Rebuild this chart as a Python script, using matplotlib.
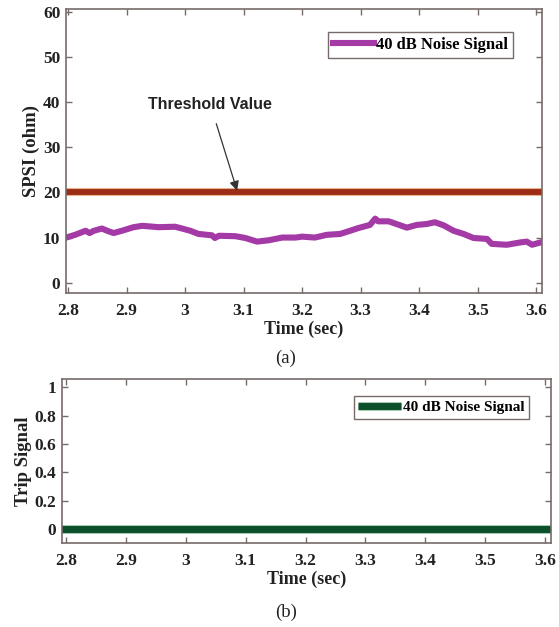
import matplotlib
matplotlib.use("Agg")
import matplotlib.pyplot as plt
import matplotlib.patheffects as pe

# ---- data ----
time_a = [2.797, 2.812, 2.830, 2.837, 2.844, 2.858, 2.867, 2.878, 2.892, 2.912,
          2.927, 2.955, 2.983, 2.995, 3.009, 3.023, 3.046, 3.051, 3.058, 3.086,
          3.103, 3.123, 3.143, 3.166, 3.189, 3.200, 3.222, 3.242, 3.265, 3.282,
          3.296, 3.316, 3.325, 3.330, 3.348, 3.368, 3.379, 3.396, 3.413, 3.427,
          3.442, 3.459, 3.476, 3.493, 3.516, 3.524, 3.550, 3.572, 3.584, 3.593,
          3.607]
spsi_40db = [10.0, 10.6, 11.5, 11.0, 11.5, 12.0, 11.5, 11.0, 11.5, 12.3,
             12.6, 12.3, 12.4, 12.0, 11.5, 10.8, 10.5, 9.9, 10.4, 10.3,
             9.9, 9.1, 9.4, 10.0, 10.0, 10.2, 10.0, 10.6, 10.8, 11.5,
             12.1, 12.8, 14.2, 13.6, 13.6, 12.7, 12.2, 12.8, 13.0, 13.4,
             12.7, 11.5, 10.8, 9.9, 9.7, 8.6, 8.4, 8.9, 9.1, 8.4,
             8.9]
threshold_time = [2.79, 3.62]
threshold_value = [20, 20]
trip_time = [2.79, 3.62]
trip_signal = [0, 0]

xticks = [2.8, 2.9, 3.0, 3.1, 3.2, 3.3, 3.4, 3.5, 3.6]
xticklabels = ["2.8", "2.9", "3", "3.1", "3.2", "3.3", "3.4", "3.5", "3.6"]
yticks_a = [0, 10, 20, 30, 40, 50, 60]
yticks_b = [0, 0.2, 0.4, 0.6, 0.8, 1]
yticklabels_b = ["0", "0.2", "0.4", "0.6", "0.8", "1"]
legend_label = "40 dB Noise Signal"

SERIF = "Liberation Serif"
FRAME = "#766b69"

fig = plt.figure(figsize=(5.59, 6.27), dpi=100)
W, H = 559, 627

def px_axes(l, t, r, b):
    return fig.add_axes([l / W, 1 - b / H, (r - l) / W, (b - t) / H])

ax1 = px_axes(66, 9, 542, 293)
ax2 = px_axes(62, 379, 551, 543)

def style(ax):
    for s in ax.spines.values():
        s.set_color(FRAME)
        s.set_linewidth(1.2)
    ax.tick_params(direction="in", length=4, width=1, color=FRAME,
                   top=True, right=True, labelsize=12.5)
    ax.tick_params(axis="x", pad=7.5)
    ax.tick_params(axis="y", pad=4)
    ax.set_xticks(xticks)
    ax.set_xticklabels(xticklabels)
    for lab in ax.get_xticklabels() + ax.get_yticklabels():
        lab.set_fontfamily(SERIF)
        lab.set_fontweight("bold")
        lab.set_color("#222222")

# ---- (a) ----
ax1.plot(threshold_time, threshold_value, color="#9c2c16", lw=4.2,
         path_effects=[pe.Stroke(linewidth=5.5, foreground="#e6a070"), pe.Normal()],
         solid_capstyle="butt")
ax1.plot(time_a, spsi_40db, color="#a33aa6", lw=4.4, label=legend_label,
         solid_joinstyle="round")
ax1.set_xlim(2.7966, 3.610)
ax1.set_ylim(-2.3, 60.7)
ax1.set_yticks(yticks_a)
style(ax1)
ax1.set_ylabel("SPSI (ohm)", fontfamily=SERIF, fontweight="bold", fontsize=13.5,
               labelpad=2, color="#222222")
ax1.set_xlabel("Time (sec)", fontfamily=SERIF, fontweight="bold", fontsize=13,
               labelpad=1, color="#222222")
leg1 = ax1.legend(loc="upper right", bbox_to_anchor=(0.939, 0.919), borderaxespad=0,
                  prop={"family": SERIF, "weight": "bold", "size": 12},
                  handlelength=2.5, handletextpad=0.1, fancybox=False,
                  framealpha=1, edgecolor=FRAME, borderpad=0.3)
leg1.get_frame().set_linewidth(1.0)
ax1.annotate("Threshold Value", xy=(3.089, 20.4), xytext=(3.043, 39.6),
             fontfamily="Liberation Sans", fontweight="bold", fontsize=11.5,
             ha="center", va="center", color="#222222",
             arrowprops=dict(arrowstyle="-|>", color="#333333", lw=0.9,
                             mutation_scale=14, shrinkA=7, shrinkB=0))

# ---- (b) ----
ax2.plot(trip_time, trip_signal, color="#0c4f2c", lw=5,
         path_effects=[pe.Stroke(linewidth=6.2, foreground="#8fbf9a"), pe.Normal()],
         label=legend_label, solid_capstyle="butt")
ax2.set_xlim(2.7933, 3.610)
ax2.set_ylim(-0.1, 1.06)
ax2.set_yticks(yticks_b)
ax2.set_yticklabels(yticklabels_b)
style(ax2)
ax2.set_ylabel("Trip Signal", fontfamily=SERIF, fontweight="bold", fontsize=13.5,
               labelpad=2, color="#222222")
ax2.set_xlabel("Time (sec)", fontfamily=SERIF, fontweight="bold", fontsize=13,
               labelpad=1, color="#222222")
leg2 = ax2.legend(loc="upper right", bbox_to_anchor=(0.955, 0.896), borderaxespad=0,
                  prop={"family": SERIF, "weight": "bold", "size": 11},
                  handlelength=2.8, handletextpad=0.1, fancybox=False,
                  framealpha=1, edgecolor=FRAME, borderpad=0.3)
leg2.get_frame().set_linewidth(1.0)

fig.text(286 / W, 1 - 358 / H, "(a)", fontfamily=SERIF, fontsize=13.5,
         ha="center", va="center", color="#222222")
fig.text(286 / W, 1 - 612 / H, "(b)", fontfamily=SERIF, fontsize=13.5,
         ha="center", va="center", color="#222222")

fig.savefig("out.png", dpi=100)
